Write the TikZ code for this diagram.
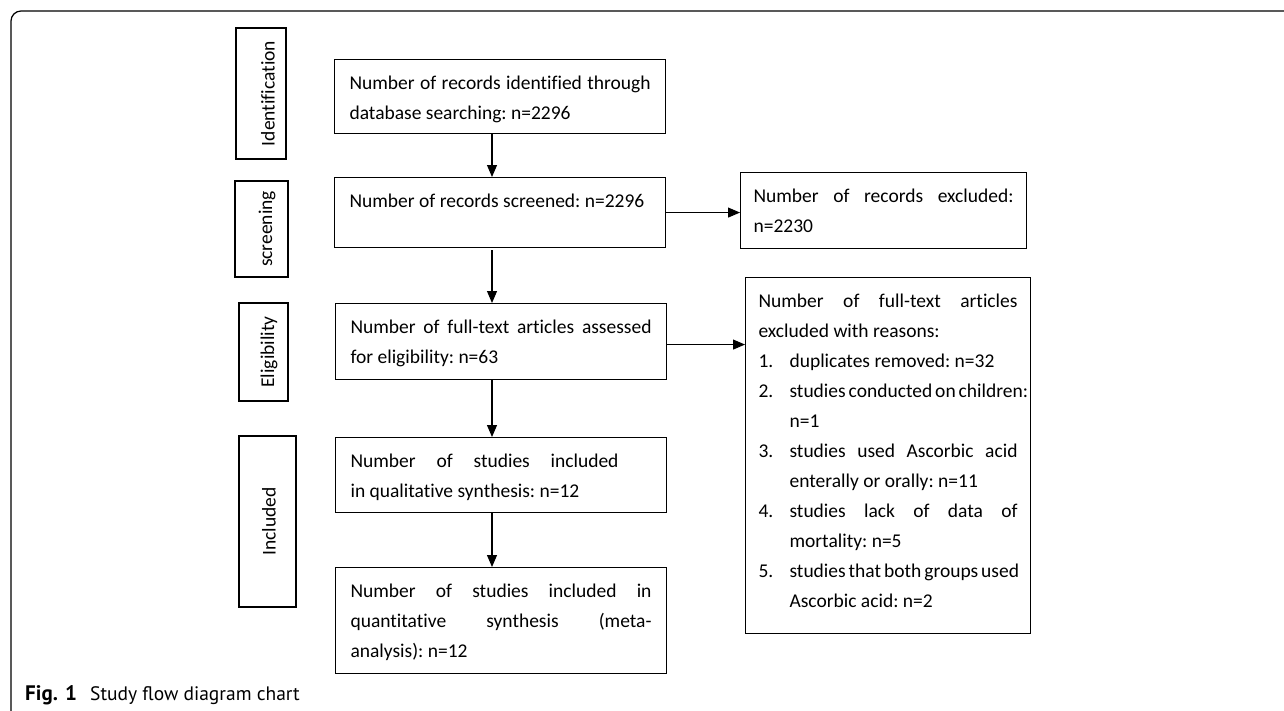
\documentclass[tikz,border=0pt]{standalone}
\usepackage{fontspec}
\setmainfont{Carlito}[Ligatures=CommonOff]
\newfontfamily\capfont{PT Sans}
\usetikzlibrary{arrows.meta}
\newcommand{\jl}[2]{\makebox[#1pt][s]{#2}}
\newcommand{\bx}[3]{\begin{minipage}[c][#2pt][t]{#1pt}\frenchspacing\fontsize{19.5}{30}\selectfont\rule{0pt}{30pt}#3\end{minipage}}
\newcommand{\itm}[1]{\makebox[31pt][l]{#1}}
\begin{document}
\begin{tikzpicture}[x=1pt,y=-1pt,
  box/.style={draw, line width=1.1pt, inner ysep=0pt, anchor=north west},
  stagebox/.style={draw, line width=1.1pt, inner sep=0pt},
  stagelbl/.style={rotate=90, inner sep=0pt, font=\fontsize{19.5}{24}\selectfont},
  arr/.style={line width=1.1pt, -{Triangle[length=12pt,width=10pt]}}]
\useasboundingbox (0,0) rectangle (1284,710);
% outer frame
\draw[line width=1.2pt, rounded corners=10pt] (11,720) -- (11,11) -- (1295,11);
% stage boxes
\node[stagebox, minimum width=50pt, minimum height=131pt] (s1) at (261,93.5) {};
\node[stagebox, minimum width=53pt, minimum height=96pt] (s2) at (261.5,229) {};
\node[stagebox, minimum width=49pt, minimum height=98pt] (s3) at (263.5,352) {};
\node[stagebox, minimum width=57pt, minimum height=171pt] (s4) at (267.5,521.5) {};
\node[stagelbl] (l1) at (s1.center -| 268,0) {Identification};
\node[stagelbl] (l2) at (s2.center -| 267,0) {screening};
\node[stagelbl] (l3) at (s3.center -| 269,0) {Eligibility};
\node[stagelbl] (l4) at (s4.center -| 269,0) {Included};
% main boxes
\node[box, inner xsep=15pt] (b1) at (334,59) {\bx{301}{74}{\jl{301}{Number of records identified through}\\database searching: n=2296}};
\node[box, inner xsep=15pt] (b2) at (334,177) {\bx{301}{70}{Number of records screened: n=2296}};
\node[box, inner xsep=15pt] (b3) at (335,303) {\bx{301}{76}{\jl{301}{Number of full-text articles assessed}\\for eligibility: n=63}};
\node[box, inner xsep=15pt] (b4) at (335,437) {\bx{301}{75}{\jl{268}{Number of studies included}\\in qualitative synthesis: n=12}};
\node[box, inner xsep=15pt] (b5) at (335,567) {\bx{301}{106}{\jl{301}{Number of studies included in}\\\jl{301}{quantitative synthesis (meta-}\\analysis): n=12}};
% right boxes
\node[box, inner xsep=13pt] (r1) at (740,172) {\bx{260}{76}{\jl{260}{Number of records excluded:}\\n=2230}};
\node[box, inner xsep=13pt] (r2) at (745,277) {\bx{259}{356}{\jl{259}{Number of full-text articles}\\
excluded with reasons:\\
\itm{1.}duplicates removed: n=32\\
\itm{2.}\jl{228}{studies conducted on children:}\\
\hspace*{31pt}n=1\\
\itm{3.}\jl{228}{studies used Ascorbic acid}\\
\hspace*{31pt}enterally or orally: n=11\\
\itm{4.}\jl{228}{studies lack of data of}\\
\hspace*{31pt}mortality: n=5\\
\itm{5.}\jl{228}{studies that both groups used}\\
\hspace*{31pt}Ascorbic acid: n=2}};
% arrows
\coordinate (ax) at (492,0);
\draw[arr] (b1.south -| ax) -- (b2.north -| ax);
\draw[arr] ([yshift=-2pt]b2.south -| ax) -- (b3.north -| ax);
\draw[arr] (b3.south -| ax) -- (b4.north -| ax);
\draw[arr] (b4.south -| ax) -- (b5.north -| ax);
\draw[arr] (b2.east) -- (b2.east -| r1.west);
\draw[arr] ([yshift=-3pt]b3.east) -- ([yshift=-3pt]b3.east -| r2.west);
% caption
\node[anchor=base west, inner sep=0pt, font=\capfont\bfseries\fontsize{21}{24}\selectfont] (fig) at (25,700) {Fig. 1};
\node[anchor=base west, inner sep=0pt, font=\capfont\fontsize{19.5}{24}\selectfont] (cap) at (90,700) {Study flow diagram chart};
\end{tikzpicture}
\end{document}
